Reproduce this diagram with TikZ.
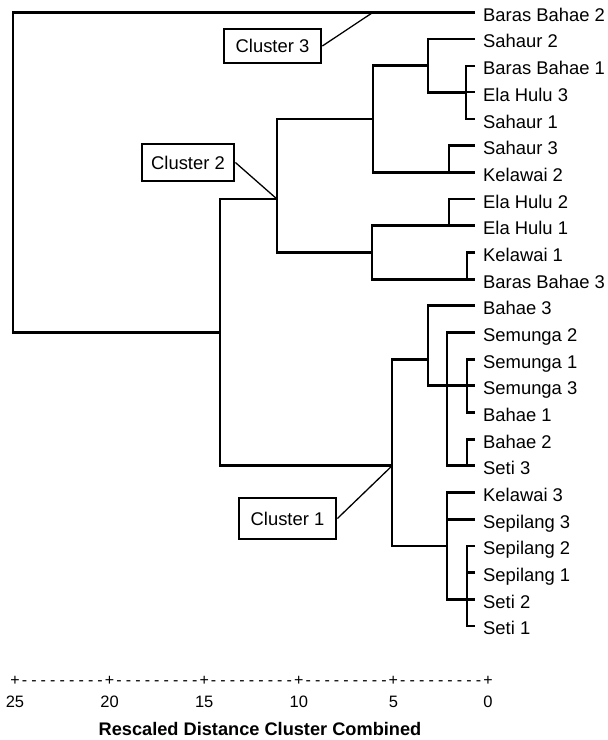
\documentclass[tikz,border=0pt]{standalone}
\usepackage{fontspec}
\setmainfont{Liberation Sans}
\usepackage{tikz}

\newcommand\rowy[1]{12.3+26.68*#1}

\begin{document}
\begin{tikzpicture}[x=1pt,y=-1pt,
  tree/.style={line width=2.8pt},
  leaf/.style={anchor=west,inner xsep=8pt,inner ysep=0pt,text height=18pt,text depth=0pt,
    font=\fontsize{18.4}{20}\selectfont},
  clusterbox/.style={draw,line width=2.8pt,fill=white,inner sep=0pt,minimum width=97pt,
    minimum height=37pt,font=\fontsize{18.4}{20}\selectfont},
  pointer/.style={line width=1.3pt},
  axischar/.style={anchor=base,inner sep=0pt,font=\fontsize{16}{16}\selectfont},
  num/.style={anchor=base,inner sep=0pt,font=\fontsize{16.5}{18}\selectfont}]
 \useasboundingbox (0,0) rectangle (608,740);

 % leaves
 \foreach \name [count=\i from 0] in {Baras Bahae 2,Sahaur 2,Baras Bahae 1,Ela Hulu 3,Sahaur 1,
   Sahaur 3,Kelawai 2,Ela Hulu 2,Ela Hulu 1,Kelawai 1,Baras Bahae 3,Bahae 3,Semunga 2,
   Semunga 1,Semunga 3,Bahae 1,Bahae 2,Seti 3,Kelawai 3,Sepilang 3,Sepilang 2,Sepilang 1,
   Seti 2,Seti 1}
   \node[leaf] (l\i) at (475,{\rowy{\i}}) {\name};

 % joins
 \coordinate (ja) at (466,{\rowy{3}});
 \coordinate (jb) at (428,{\rowy{2}});
 \coordinate (jc) at (449,{\rowy{6}});
 \coordinate (jd) at (373,{\rowy{4}});
 \coordinate (je) at (449,{\rowy{8}});
 \coordinate (jf) at (467,{\rowy{10}});
 \coordinate (jg) at (372,{\rowy{9}});
 \coordinate (jh) at (277,{\rowy{7}});
 \coordinate (ji) at (467,{\rowy{14}});
 \coordinate (jj) at (467,{\rowy{17}});
 \coordinate (jk) at (447,{\rowy{14}});
 \coordinate (jl) at (428,{\rowy{13}});
 \coordinate (jm) at (467,{\rowy{22}});
 \coordinate (jn) at (447,{\rowy{20}});
 \coordinate (jo) at (392,{\rowy{17}});
 \coordinate (jp) at (220,{\rowy{12}});
 \coordinate (jq) at (13,{\rowy{0}});
 \coordinate (t3) at (373,{\rowy{0}});

 \draw[tree,line width=2.2pt] (l2.west) -| (ja) |- (l4.west);
 \draw[tree,line width=2.2pt] (ja) -- (l3.west);
 \draw[tree] (l1.west) -| (jb) |- (ja);
 \draw[tree] (l5.west) -| (jc) |- (l6.west);
 \draw[tree] (jb) -| (jd) |- (jc);
 \draw[tree] (l7.west) -| (je) |- (l8.west);
 \draw[tree] (l9.west) -| (jf) |- (l10.west);
 \draw[tree] (je) -| (jg) |- (jf);
 \draw[tree] (jd) -| (jh) |- (jg);

 \draw[tree] (l13.west) -| (ji) |- (l15.west);
 \draw[tree] (ji) -- (l14.west);
 \draw[tree] (l16.west) -| (jj) |- (l17.west);
 \draw[tree] (l12.west) -| (jk) |- (jj);
 \draw[tree] (jk) -- (ji);
 \draw[tree] (l11.west) -| (jl) |- (jk);
 \draw[tree] (l20.west) -| (jm) |- (l23.west);
 \draw[tree] (jm) -- (l22.west);
 \draw[tree] (l21.west) -- (l21.west -| jm);
 \draw[tree] (l18.west) -| (jn) |- (jm);
 \draw[tree] (l19.west) -- (l19.west -| jn);
 \draw[tree] (jl) -| (jo) |- (jn);

 \draw[tree] (jh) -| (jp) |- (jo);
 \draw[tree] (l0.west) -| (jq) |- (jp);

 % cluster labels
 \node[clusterbox,minimum height=34pt] (c3) at (272.5,46) {Cluster 3};
 \node[clusterbox,minimum width=92pt] (c2) at (188,162.5) {Cluster 2};
 \node[clusterbox,minimum height=41pt] (c1) at (287.5,518.5) {Cluster 1};
 \draw[pointer] (c3.east) -- (t3);
 \draw[pointer] (c2.east) -- (jh);
 \draw[pointer] (c1.east) -- (jo);

 % scale
 \foreach \k in {0,...,5}
   \node[axischar] (p\k) at ({15+94.6*\k},685.5) {+};
 \foreach \k in {0,...,4}
   \foreach \d in {1,...,9}
     \node[axischar] (d\k\d) at ({15+94.6*\k+9.46*\d},685.5) {-};
 \foreach \k/\v in {0/25,1/20,2/15,3/10,4/5,5/0}
   \node[num] (n\k) at ({15+94.6*\k},707.5) {\v};
 \node[anchor=base,inner sep=0pt,font=\fontsize{18.2}{20}\selectfont\bfseries] (title)
   at (260,735) {Rescaled Distance Cluster Combined};
\end{tikzpicture}
\end{document}
